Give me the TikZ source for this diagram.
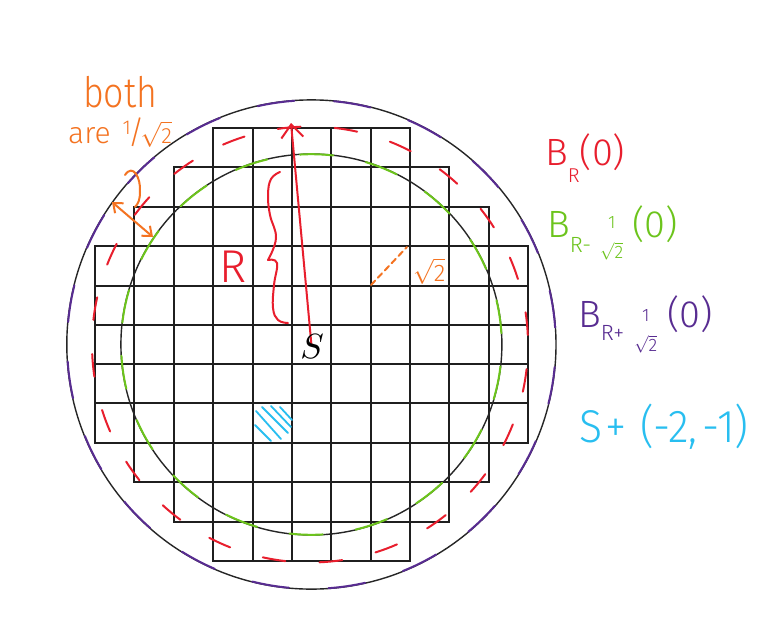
\documentclass[tikz,border=0pt]{standalone}
\usepackage{amsmath}
\usepackage{fontspec}
\newfontfamily\hand{Fira Sans Light}
\usetikzlibrary{arrows.meta}
\definecolor{cred}{RGB}{232,30,45}
\definecolor{cgreen}{RGB}{108,196,28}
\definecolor{cpurple}{RGB}{88,44,145}
\definecolor{corange}{RGB}{244,115,33}
\definecolor{cblue}{RGB}{40,190,240}
\newcommand\stk[1]{\raisebox{#1}{\fontsize{18}{18}\selectfont\begin{tabular}[b]{@{}c@{}}1\\[8pt]$\sqrt{\text{2}}$\end{tabular}}}
\begin{document}
\begin{tikzpicture}[x=1pt,y=-1pt,
  gridline/.style={line width=1.8pt,black!88},
  ring/.style={line width=1.4pt,black!85},
  hand/.style={line width=2pt,line cap=round,line join=round},
  lbl/.style={anchor=base west,inner sep=0pt,font=\hand}]
\fill[white] (0,0) rectangle (769,619);
\useasboundingbox (0,0) rectangle (769,619);
% grid of squares
\foreach \r/\a/\b in {0/3/7,1/2/8,2/1/9,3/0/10,4/0/10,5/0/10,6/0/10,7/0/10,8/1/9,9/2/8,10/3/7}{
  \foreach \c in {\a,...,\b}{
    \pgfmathsetmacro\xa{{95,134,174,213,253,292,331,371,410,449,489,528}[\c]}
    \pgfmathsetmacro\xb{{95,134,174,213,253,292,331,371,410,449,489,528}[\c+1]}
    \pgfmathsetmacro\ya{{128,167,207,246,286,325,364,403,443,482,522,561}[\r]}
    \pgfmathsetmacro\yb{{128,167,207,246,286,325,364,403,443,482,522,561}[\r+1]}
    \draw[gridline] (\xa,\ya) rectangle (\xb,\yb);
  }
}
\coordinate (c) at (311.4,344.5);
\coordinate (cr) at (310,344.5);
% black circles
\draw[ring] (c) circle[radius=244.6];
\draw[ring] (c) circle[radius=190.5];
% coloured dashed circles
\foreach \t in {0,...,19}{
  \draw[hand,cpurple] (c) ++({5.3+18*\t}:244.3) arc[start angle={5.3+18*\t},delta angle=8.7,radius=244.3];
}
\foreach \t in {0,...,17}{
  \draw[hand,cgreen] (c) ++({6.6+20*\t}:190.3) arc[start angle={6.6+20*\t},delta angle=10,radius=190.3];
}
\foreach \t in {0,...,23}{
  \draw[hand,cred] (cr) ++({6.5+15*\t}:218) arc[start angle={6.5+15*\t},delta angle=6,radius=218];
}
% blue hatched blob
\draw[hand,cblue,line width=1.8pt] (255,425) -- (271,441) (256,411) -- (281,439) (262,407) -- (288,433) (271,406) -- (291,427) (280,407) -- (292,420);
% radius arrow
\coordinate (tipR) at (291,123);
\draw[hand,cred,-{Straight Barb[length=13pt,width=22pt]}] (c) -- (tipR);
\node[inner sep=0pt] (S) at (312,346.5) {\scalebox{3.5}{$S$}};
% brace
\draw[hand,cred] plot[smooth,tension=0.7] coordinates {(280,172) (271,179) (268,195) (270,215) (276,238) (268,260)};
\draw[hand,cred] plot[smooth,tension=0.7] coordinates {(268,260) (277,263) (274,285) (273,308) (278,320) (288,323)};
\node[lbl,text=cred] (R) at (219,282) {\fontsize{46}{46}\selectfont R};
% orange annotations
\coordinate (oa) at (112,202);
\coordinate (ob) at (153,237);
\draw[hand,corange,{Straight Barb[length=8pt,width=13pt]}-{Straight Barb[length=8pt,width=13pt]}] (oa) -- (ob);
\draw[hand,corange] (125,175) .. controls (133,163) and (141,178) .. (140,192) .. controls (140,200) and (138,204) .. (135,207);
\coordinate (d1) at (371,285);
\coordinate (d2) at (407,247);
\draw[hand,corange,dash pattern=on 6pt off 4pt] (d1) -- (d2);
\node[lbl,text=corange] (sq) at (413,281) {\fontsize{24}{24}\selectfont$\sqrt{\text{2}}$};
\node[lbl,text=corange] (both) at (83,107) {\scalebox{0.85}[1]{\fontsize{42}{42}\selectfont both}};
\node[lbl,text=corange] (are) at (68,143) {\fontsize{30}{30}\selectfont are\hspace{12pt}\raisebox{9pt}{\fontsize{20}{20}\selectfont 1}\kern-3pt{\fontsize{32}{32}\selectfont /}\kern-4pt$\sqrt{\text{\fontsize{22}{22}\selectfont 2}}$};
% legend labels
\node[lbl,text=cred] (l1) at (545,165) {\fontsize{38}{38}\selectfont B\raisebox{-17pt}{\fontsize{20}{20}\selectfont R}(0)};
\node[lbl,text=cgreen] (l2) at (547,237) {\fontsize{38}{38}\selectfont B\raisebox{-15pt}{\fontsize{22}{22}\selectfont R-}\hspace{9pt}\stk{-21pt}\hspace{9pt}(0)};
\node[lbl,text=cpurple] (l3) at (578,327) {\fontsize{38}{38}\selectfont B\raisebox{-13pt}{\fontsize{22}{22}\selectfont R+}\hspace{10pt}\stk{-24pt}\hspace{10pt}(0)};
\node[lbl,text=cblue] (l4) at (579,442) {\scalebox{0.93}[1]{\fontsize{46}{46}\selectfont S\hspace{4pt}+\hspace{14pt}(-2,\hspace{6pt}-1)}};
\end{tikzpicture}
\end{document}
